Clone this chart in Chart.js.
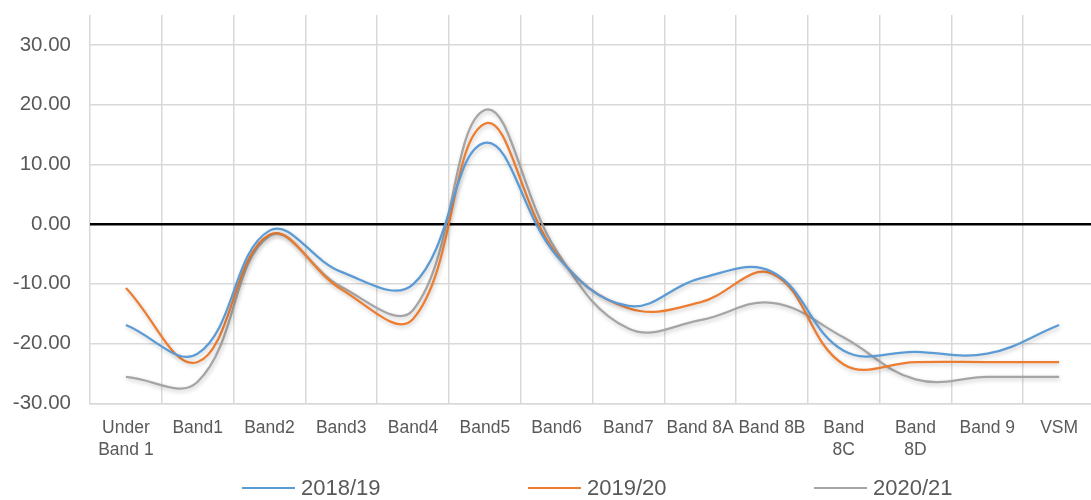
<!DOCTYPE html>
<html>
<head>
<meta charset="utf-8">
<script src="https://cdn.jsdelivr.net/npm/chart.js@4"></script>
<style>
    body { margin: 0; background: #fff; overflow: hidden; }
    #wrap { position: relative; width: 1100px; height: 500px; }
    .legend-item { position: absolute; top: 474px; height: 28px; font-family: 'Liberation Sans', Arial, sans-serif; font-size: 22px; color: #595959; line-height: 28px; }
    .legend-item i { position: absolute; left: 0; top: 13px; width: 53px; height: 2px; }
    .legend-item span { position: absolute; left: 59px; white-space: nowrap; }
</style>
</head>
<body>
<div id="wrap">
    <canvas id="band-chart"></canvas>
    <div class="legend-item" style="left:242px"><i style="background:#5B9BD5"></i><span>2018/19</span></div>
    <div class="legend-item" style="left:528px"><i style="background:#ED7D31"></i><span>2019/20</span></div>
    <div class="legend-item" style="left:814px"><i style="background:#A5A5A5"></i><span>2020/21</span></div>
</div>
<script>
    const categories = [['Under', 'Band 1'], 'Band1', 'Band2', 'Band3', 'Band4', 'Band5', 'Band6', 'Band7',
        'Band 8A', 'Band 8B', ['Band', '8C'], ['Band', '8D'], 'Band 9', 'VSM'];
    const series2018 = [-16.9, -21.7, -1.1, -8.0, -10.1, 13.6, -5.3, -13.7, -9.1, -8.0, -21.2, -21.4, -21.7, -16.9];
    const series2019 = [-10.7, -23.1, -1.8, -10.9, -15.9, 16.8, -5.1, -14.1, -13.1, -8.3, -23.5, -23.1, -23.1, -23.1];
    const series2020 = [-25.6, -26.4, -2.0, -10.5, -14.4, 19.1, -4.5, -17.5, -16.1, -13.2, -19.0, -26.0, -25.6, -25.6];
    const yTicks = [-30, -20, -10, 0, 10, 20, 30];

    // soft drop shadow under the lines, like the office chart
    const lineShadow = {
        id: 'lineShadow',
        beforeDatasetDraw(chart) {
            const ctx = chart.ctx;
            ctx.save();
            ctx.shadowColor = 'rgba(0, 0, 0, 0.22)';
            ctx.shadowBlur = 4;
            ctx.shadowOffsetX = 1;
            ctx.shadowOffsetY = 2;
        },
        afterDatasetDraw(chart) {
            chart.ctx.restore();
        }
    };

    const mkSet = (label, data, color) => ({
        label: label,
        data: data,
        borderColor: color,
        backgroundColor: color,
        borderWidth: 2.25,
        pointRadius: 0,
        tension: 0.4,
        fill: false
    });

    new Chart(document.getElementById('band-chart'), {
        type: 'line',
        data: {
            labels: categories,
            datasets: [
                mkSet('2018/19', series2018, '#5B9BD5'),
                mkSet('2019/20', series2019, '#ED7D31'),
                mkSet('2020/21', series2020, '#A5A5A5')
            ]
        },
        options: {
            responsive: true,
            maintainAspectRatio: false,
            animation: false,
            layout: { padding: { top: 15, left: 13, right: 5, bottom: 25 } },
            plugins: {
                legend: { display: false },
                tooltip: { enabled: false }
            },
            scales: {
                x: {
                    offset: true,
                    grid: { color: '#d9d9d9', lineWidth: 1.5, drawTicks: false, offset: true },
                    border: { display: true, color: '#d9d9d9', width: 1.5 },
                    ticks: {
                        autoSkip: false,
                        maxRotation: 0,
                        minRotation: 0,
                        padding: 14,
                        color: '#595959',
                        font: { family: "'Liberation Sans', Arial, sans-serif", size: 17.5, lineHeight: 1.25 }
                    }
                },
                y: {
                    min: -30,
                    max: 35,
                    afterBuildTicks: (scale) => {
                        scale.ticks = yTicks.map(v => ({ value: v }));
                    },
                    afterFit: (scale) => {
                        scale.width = 77;
                        scale.paddingTop = 0;
                        scale.paddingBottom = 0;
                    },
                    grid: {
                        drawTicks: false,
                        color: (c) => (c.tick && c.tick.value === 0 ? '#000000' : '#d9d9d9'),
                        lineWidth: (c) => (c.tick && c.tick.value === 0 ? 2.5 : 1.5)
                    },
                    border: { display: false },
                    ticks: {
                        padding: 19,
                        color: '#595959',
                        font: { family: "'Liberation Sans', Arial, sans-serif", size: 20.5 },
                        callback: (v) => Number(v).toFixed(2)
                    }
                }
            }
        },
        plugins: [lineShadow]
    });
</script>
</body>
</html>
